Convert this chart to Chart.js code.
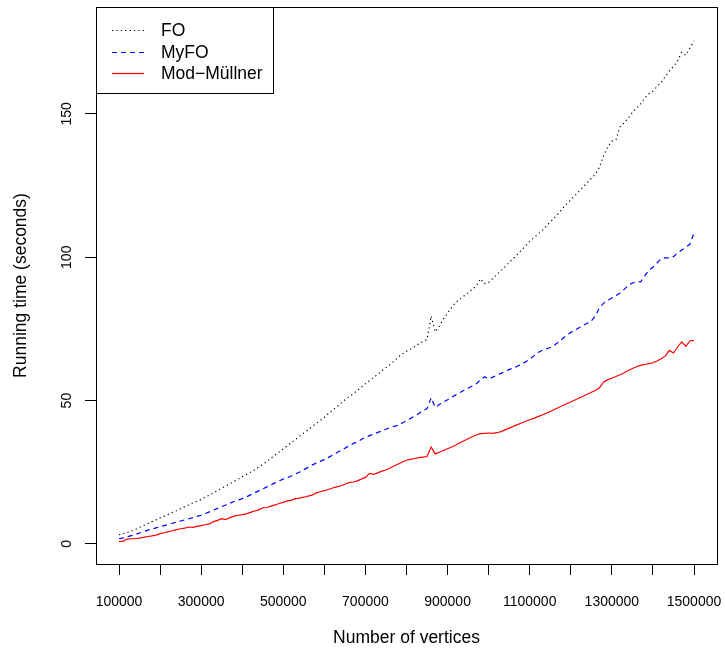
<!DOCTYPE html>
<html lang="en">
<head>
<meta charset="UTF-8">
<title>Running time vs number of vertices</title>
<script src="https://cdn.jsdelivr.net/npm/chart.js@4.4.1/dist/chart.umd.min.js"></script>
<style>
  html, body { margin: 0; padding: 0; background: #fff; }
  #wrap { width: 725px; height: 653px; }
</style>
</head>
<body>
<div id="wrap"><canvas id="myChart" width="725" height="653"></canvas></div>
<script>
// number of vertices, in thousands
var verticesK = [100,110,120,130,140,150,160,170,180,190,
  200,210,220,230,240,250,260,270,280,290,
  300,310,320,330,340,350,360,370,380,390,
  400,410,420,430,440,450,460,470,480,490,
  500,510,520,530,540,550,560,570,580,590,
  600,610,620,630,640,650,660,670,680,690,
  700,710,720,730,740,750,760,770,780,790,
  800,810,820,830,840,850,860,870,880,890,
  900,910,920,930,940,950,960,970,980,990,
  1000,1010,1020,1030,1040,1050,1060,1070,1080,1090,
  1100,1110,1120,1130,1140,1150,1160,1170,1180,1190,
  1200,1210,1220,1230,1240,1250,1260,1270,1280,1290,
  1300,1310,1320,1330,1340,1350,1360,1370,1380,1390,
  1400,1410,1420,1430,1440,1450,1460,1470,1480,1490,
  1500];

// running time in seconds
var foTime = [3.2,3.6,4.0,4.5,5.1,5.8,6.4,7.1,7.8,8.4,
  9.1,9.7,10.3,11.0,11.6,12.3,13.0,13.6,14.3,14.9,
  15.5,16.3,17.0,17.8,18.6,19.4,20.2,21.0,21.8,22.6,
  23.4,24.2,25.0,25.8,26.8,27.8,28.8,29.9,31.0,32.1,
  33.2,34.3,35.4,36.5,37.6,38.7,39.8,40.9,42.0,43.1,
  44.2,45.5,46.7,47.8,49.0,50.2,51.3,52.4,53.5,54.7,
  55.9,57.0,58.0,59.2,60.4,61.5,62.6,63.8,65.2,66.3,
  67.2,68.0,68.9,69.8,70.6,71.3,79.5,74.0,76.0,78.5,
  80.5,82.5,84.3,85.3,86.5,87.6,88.8,90.0,92.5,90.8,
  91.2,92.6,94.0,95.3,96.7,98.2,99.6,101.0,102.5,104.0,
  105.5,106.8,108.0,109.3,110.8,112.3,113.8,115.3,117.0,118.6,
  120.0,121.5,123.0,124.5,126.0,127.5,129.0,131.5,135.5,138.5,
  140.5,141.0,145.5,147.0,148.5,150.5,152.0,153.5,155.5,157.0,
  158.0,159.5,161.0,163.0,165.0,166.5,168.5,171.5,170.5,173.0,
  175.5];

var myfoTime = [1.8,2.1,2.5,2.9,3.3,3.8,4.3,4.8,5.2,5.6,
  6.0,6.4,6.8,7.2,7.6,8.0,8.4,8.8,9.2,9.6,
  10.0,10.6,11.2,11.8,12.4,13.0,13.6,14.2,14.8,15.3,
  15.8,16.4,17.1,17.8,18.5,19.2,19.9,20.6,21.3,22.0,
  22.6,23.1,23.7,24.4,25.1,25.9,26.7,27.5,28.2,28.8,
  29.4,30.2,31.0,31.8,32.6,33.4,34.2,35.0,35.6,36.4,
  37.2,37.8,38.3,38.9,39.4,40.0,40.6,41.0,41.4,42.2,
  43.0,43.8,44.6,45.5,46.4,47.2,51.0,47.6,48.6,49.5,
  50.3,51.2,52.0,52.8,53.6,54.3,55.1,55.9,57.2,58.3,
  57.6,58.2,58.9,59.5,60.2,60.8,61.4,62.0,62.8,63.5,
  64.5,65.6,66.8,67.5,68.0,68.5,69.3,70.4,71.6,72.8,
  73.8,74.6,75.4,76.2,77.0,77.8,79.5,82.5,84.0,85.0,
  85.8,86.6,87.5,88.8,90.2,91.0,91.5,91.4,93.5,95.5,
  96.5,98.0,99.5,99.8,99.8,100.2,101.5,102.5,103.5,104.5,
  108.5];

var modTime = [0.8,1.0,1.7,1.8,1.9,2.0,2.3,2.6,2.8,3.1,
  3.6,3.9,4.3,4.6,5.0,5.3,5.5,5.9,5.8,6.1,
  6.4,6.7,7.0,7.8,8.2,8.8,8.5,9.2,9.7,10.0,
  10.2,10.5,11.0,11.5,11.9,12.6,12.7,13.2,13.6,14.1,
  14.5,15.0,15.3,15.8,16.0,16.3,16.7,17.0,17.8,18.2,
  18.6,19.0,19.5,19.9,20.3,20.8,21.4,21.6,22.0,22.6,
  23.2,24.6,24.3,24.8,25.4,25.8,26.5,27.2,27.9,28.6,
  29.2,29.5,29.8,30.1,30.3,30.5,33.8,31.4,32.0,32.6,
  33.2,33.8,34.5,35.3,36.0,36.7,37.4,38.0,38.5,38.6,
  38.7,38.6,38.8,39.2,39.8,40.4,41.0,41.6,42.2,42.8,
  43.3,43.8,44.4,45.0,45.6,46.2,46.9,47.6,48.3,48.9,
  49.5,50.2,50.9,51.5,52.2,52.9,53.5,54.5,56.5,57.3,
  57.8,58.4,59.0,59.7,60.5,61.2,61.8,62.3,62.6,62.9,
  63.2,63.8,64.6,65.5,67.5,66.6,68.7,70.5,68.9,70.8,
  71.0];

var seriesNames = ['FO', 'MyFO', 'Mod\u2212M\u00fcllner'];
var xTitle = 'Number of vertices';
var yTitle = 'Running time (seconds)';
var xTicks = [100000,200000,300000,400000,500000,600000,700000,800000,
  900000,1000000,1100000,1200000,1300000,1400000,1500000];
var xTickLabels = ['100000','','300000','','500000','','700000','',
  '900000','','1100000','','1300000','','1500000'];
var yTicks = [0, 50, 100, 150];

var FONT = '"Liberation Sans", Arial, Helvetica, sans-serif';

function toPoints(vals) {
  return vals.map(function (v, i) { return { x: verticesK[i] * 1000, y: v }; });
}

// R style box, rotated y labels, axis titles and legend
var rStyle = {
  id: 'rStyle',
  afterDraw: function (chart) {
    var ctx = chart.ctx;
    var a = chart.chartArea;
    var ys = chart.scales.y;
    ctx.save();
    ctx.strokeStyle = '#000';
    ctx.lineWidth = 1;
    ctx.strokeRect(Math.round(a.left) + 0.5, Math.round(a.top) + 0.5,
      Math.round(a.right - a.left), Math.round(a.bottom - a.top));

    // y tick labels, parallel to axis
    ctx.fillStyle = '#000';
    ctx.font = '14px ' + FONT;
    ctx.textAlign = 'center';
    ctx.textBaseline = 'alphabetic';
    ys.ticks.forEach(function (t) {
      var py = ys.getPixelForValue(t.value);
      ctx.save();
      ctx.translate(71, py);
      ctx.rotate(-Math.PI / 2);
      ctx.fillText(String(t.value), 0, 0);
      ctx.restore();
    });

    // axis titles
    ctx.font = '17.5px ' + FONT;
    ctx.fillText(xTitle, (a.left + a.right) / 2, 643);
    ctx.save();
    ctx.translate(26, (a.top + a.bottom) / 2);
    ctx.rotate(-Math.PI / 2);
    ctx.fillText(yTitle, 0, 0);
    ctx.restore();

    // legend
    var lx = Math.round(a.left) + 0.5, ly = Math.round(a.top) + 0.5;
    ctx.strokeRect(lx, ly, 177, 86);
    var rowY = [30, 52, 73];
    ctx.textAlign = 'left';
    ctx.textBaseline = 'middle';
    chart.data.datasets.forEach(function (ds, i) {
      ctx.save();
      ctx.strokeStyle = ds.borderColor;
      ctx.lineWidth = ds.borderWidth;
      ctx.setLineDash(ds.borderDash || []);
      ctx.beginPath();
      ctx.moveTo(112, rowY[i] + 0.5);
      ctx.lineTo(144, rowY[i] + 0.5);
      ctx.stroke();
      ctx.restore();
      ctx.fillText(ds.label, 161, rowY[i] + 1);
    });
    ctx.restore();
  }
};

var ctx = document.getElementById('myChart').getContext('2d');
var myChart = new Chart(ctx, {
  type: 'line',
  data: {
    datasets: [{
      label: seriesNames[0],
      data: toPoints(foTime),
      borderColor: '#000000',
      borderWidth: 1.2,
      borderDash: [1.2, 3.2]
    }, {
      label: seriesNames[1],
      data: toPoints(myfoTime),
      borderColor: '#0000ff',
      borderWidth: 1.2,
      borderDash: [5, 4]
    }, {
      label: seriesNames[2],
      data: toPoints(modTime),
      borderColor: '#ff0000',
      borderWidth: 1.2
    }]
  },
  options: {
    responsive: false,
    animation: false,
    layout: { padding: { top: 7, right: 8, left: 0, bottom: 0 } },
    elements: { point: { radius: 0 }, line: { tension: 0 } },
    plugins: { legend: { display: false }, tooltip: { enabled: false } },
    scales: {
      x: {
        type: 'linear',
        min: 44000,
        max: 1556000,
        afterFit: function (s) { s.height = 89; s.paddingLeft = 0; s.paddingRight = 0; },
        afterBuildTicks: function (s) {
          s.ticks = xTicks.map(function (v) { return { value: v }; });
        },
        border: { display: false },
        grid: { drawOnChartArea: false, drawTicks: true, tickLength: 11, color: '#000', tickWidth: 1 },
        ticks: {
          autoSkip: false,
          maxRotation: 0,
          minRotation: 0,
          padding: 19,
          color: '#000',
          font: { size: 14, family: FONT },
          callback: function (v, i) { return xTickLabels[i]; }
        }
      },
      y: {
        type: 'linear',
        min: -7,
        max: 187.3,
        afterFit: function (s) { s.width = 96; s.paddingTop = 0; s.paddingBottom = 0; },
        afterBuildTicks: function (s) {
          s.ticks = yTicks.map(function (v) { return { value: v }; });
        },
        border: { display: false },
        grid: { drawOnChartArea: false, drawTicks: true, tickLength: 11, color: '#000', tickWidth: 1 },
        ticks: { display: false }
      }
    }
  },
  plugins: [rStyle]
});
</script>
</body>
</html>
